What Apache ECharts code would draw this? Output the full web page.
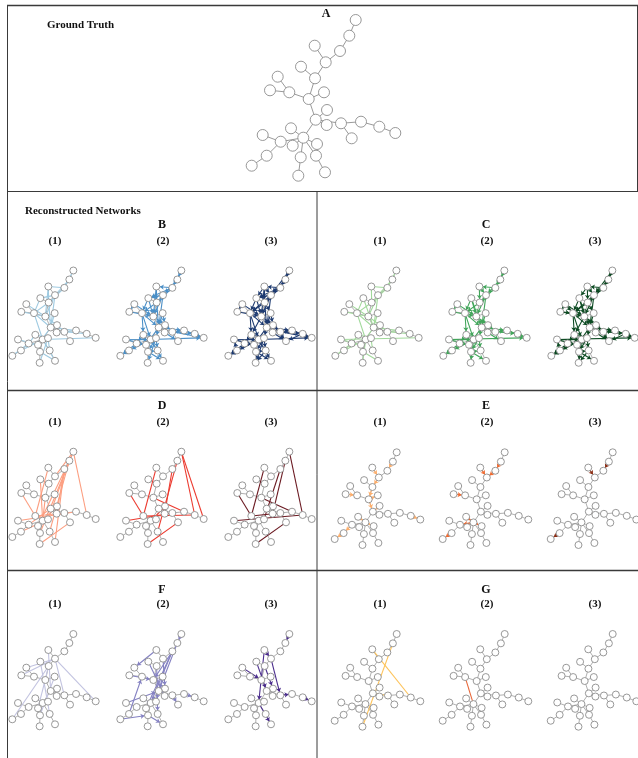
<!DOCTYPE html>
<html>
<head>
<meta charset="utf-8">
<script src="https://cdn.jsdelivr.net/npm/echarts@6/dist/echarts.min.js"></script>
<style>
  html, body { margin: 0; background: #fff; }
  #chart { width: 638px; height: 758px; }
</style>
</head>
<body>
<div id="chart"></div>
<script>
// node positions of the ground-truth tree layout (used by A, E, G)
const truthXY = [
  [355.7, 20], [349.3, 35.7], [340, 51], [314.7, 45.7], [325.7, 62.3], [301, 66.7],
  [315, 78.3], [277.7, 76.7], [270, 90.3], [289.3, 92.3], [308.7, 99], [324, 92.3],
  [327, 110], [315.7, 119.7], [326.7, 125], [341, 123.3], [361, 121.7], [379.3, 126.7],
  [395.3, 133], [351.7, 138.3], [291, 128.3], [303.3, 137.7], [262.7, 135], [280.7, 141.7],
  [292.7, 145.7], [317, 144], [266.7, 155.7], [251.7, 165.7], [300.7, 157.3], [316, 155.7],
  [298.3, 175.7], [325, 172.3]
];
// node positions of the second layout (used by B, C, D, F)
const panelXY = [
  [206, 19], [194, 46], [179, 71], [131, 67], [151, 93], [107, 102],
  [132, 115], [65, 120], [50, 143], [88, 147], [122, 157], [150, 147],
  [157, 183], [138, 190], [156, 205], [179, 203], [214, 199], [246, 209],
  [273, 221], [196, 231], [92, 212], [114, 226], [40, 226], [72, 238],
  [100, 242], [130, 222], [49, 259], [23, 275], [106, 263], [135, 259],
  [105, 296], [151, 290]
];
const treeEdges = [
  [0, 1], [1, 2], [2, 4], [3, 4], [4, 6], [5, 6], [6, 10], [7, 9], [8, 9], [9, 10],
  [10, 11], [10, 13], [12, 13], [13, 14], [13, 15], [15, 16], [16, 17], [17, 18], [15, 19],
  [13, 21], [20, 21], [21, 23], [22, 23], [23, 26], [26, 27], [21, 24], [21, 25],
  [21, 28], [28, 30], [21, 29], [29, 31]
];

const edgesB1 = [[0,2],[1,4],[2,3],[2,6],[3,6],[4,5],[4,10],[5,9],[6,9],[7,10],[8,10],[9,13],[10,12],[11,13],[6,13],[13,16],[12,15],[14,16],[15,17],[21,18],[20,23],[22,24],[21,26],[23,27],[24,28],[25,29],[28,31],[13,24],[20,25],[9,21],[3,10],[4,13],[25,30],[21,31]];
const edgesB2 = edgesB1.concat([[0,1],[5,10],[7,8],[9,20],[20,24],[22,21],[23,24],[24,25],[25,28],[28,29],[16,18],[15,18],[14,19],[12,14],[11,12],[13,25],[2,5],[26,27]]);
const edgesB3 = edgesB2.concat([[3,5],[6,11],[10,20],[21,27],[26,22],[29,30],[17,19],[12,19],[4,9],[0,4],[1,2],[3,4]]);
const edgesC1 = [[0,2],[1,4],[2,3],[2,6],[3,6],[4,10],[5,9],[6,9],[7,10],[8,10],[9,13],[10,12],[11,13],[5,13],[13,16],[12,15],[14,16],[15,17],[22,18],[20,23],[22,24],[21,26],[23,27],[24,28],[25,29],[28,31],[13,24],[20,25],[9,21],[4,13],[21,30]];
const edgesC2 = edgesC1.concat([[0,1],[1,2],[5,10],[7,8],[9,20],[20,24],[22,21],[23,24],[24,25],[25,28],[28,29],[16,18],[14,19],[12,14],[13,25],[26,27],[3,4]]);
const edgesC3 = edgesC2.concat([[3,5],[6,11],[10,20],[21,27],[26,22],[29,30],[17,19],[12,19],[4,9],[0,4],[7,9],[8,9],[15,16],[17,18]]);
const edgesD1 = [[0,17],[0,4],[1,25],[1,29],[2,14],[2,31],[3,20],[8,20],[22,16],[23,13],[30,19],[20,15],[24,12],[5,21],[1,24],[26,25],[10,21],[0,28]];
const edgesD2 = [[0,17],[0,18],[1,29],[2,14],[3,20],[8,20],[10,16],[22,15],[20,17],[30,19],[24,12]];
const edgesD3 = [[0,17],[1,14],[3,20],[8,20],[10,16],[22,17],[20,15],[30,19],[2,25]];
const edgesE1 = [[1,2],[3,4],[4,6],[6,10],[8,9],[10,13],[12,13],[17,18],[23,26],[26,27],[20,21],[21,25],[10,11]];
const edgesE2 = [[1,2],[3,4],[2,4],[8,9],[20,21],[21,25],[26,27],[21,23]];
const edgesE3 = [[1,2],[3,4],[13,14],[26,27]];
const edgesF1 = [[4,18],[4,8],[4,7],[4,15],[27,6],[5,29],[3,13],[6,24],[11,28]];
const edgesF2 = [[3,7],[2,21],[2,24],[1,13],[5,14],[6,29],[27,28],[22,13],[8,10],[26,9],[4,12],[0,1],[16,17],[15,19],[2,10],[11,25],[28,31]];
const edgesF3 = [[5,13],[6,12],[4,15],[3,21],[21,31],[0,1],[3,4],[15,16],[17,18],[7,10],[12,14]];
const edgesG1 = [[3,17],[1,30],[13,15]];
const edgesG2 = [[9,21]];
const edgesG3 = [];

const colLeft = [12.3, 120.3, 228.3, 335.3, 443.3, 551.3];
const panels = [
  { xy: truthXY, box: [251.7, 20, 143.6, 155.7], extra: [], color: '#999', size: 11 },
  { xy: panelXY, col: 0, top: 270.5, extra: edgesB1, color: '#9ecae1' },
  { xy: panelXY, col: 1, top: 270.5, extra: edgesB2, color: '#4a8fc7', arrow: true },
  { xy: panelXY, col: 2, top: 270.5, extra: edgesB3, color: '#1d3a70', arrow: true },
  { xy: panelXY, col: 3, top: 270.5, extra: edgesC1, color: '#a1d99b' },
  { xy: panelXY, col: 4, top: 270.5, extra: edgesC2, color: '#41a55a', arrow: true },
  { xy: panelXY, col: 5, top: 270.5, extra: edgesC3, color: '#0c4a22', arrow: true },
  { xy: panelXY, col: 0, top: 451.7, extra: edgesD1, color: '#fc9e80' },
  { xy: panelXY, col: 1, top: 451.7, extra: edgesD2, color: '#ec3b30' },
  { xy: panelXY, col: 2, top: 451.7, extra: edgesD3, color: '#6b1a22' },
  { xy: truthXY, col: 3, top: 452.3, extra: edgesE1, color: '#fdae6b', arrow: true },
  { xy: truthXY, col: 4, top: 452.3, extra: edgesE2, color: '#f06a30', arrow: true },
  { xy: truthXY, col: 5, top: 452.3, extra: edgesE3, color: '#8c2d14', arrow: true },
  { xy: panelXY, col: 0, top: 634, extra: edgesF1, color: '#c2c3e0' },
  { xy: panelXY, col: 1, top: 634, extra: edgesF2, color: '#8481c2', arrow: true },
  { xy: panelXY, col: 2, top: 634, extra: edgesF3, color: '#4a2c8c', arrow: true },
  { xy: truthXY, col: 3, top: 634, extra: edgesG1, color: '#fdc35a' },
  { xy: truthXY, col: 4, top: 634, extra: edgesG2, color: '#e8683a' },
  { xy: truthXY, col: 5, top: 634, extra: edgesG3, color: '#999' }
];

const series = panels.map(p => {
  const isTruth = p.xy === truthXY;
  let box = p.box;
  if (!box) {
    box = isTruth ? [colLeft[p.col] - 0.6, p.top, 85.6, 92.7] : [colLeft[p.col], p.top, 83.4, 92.3];
  }
  const links = treeEdges.map(e => ({
    source: e[0], target: e[1],
    lineStyle: { color: '#9a9a9a', width: p.size ? 1 : 0.8, opacity: 1, type: 'solid' }
  }));
  p.extra.forEach(e => {
    const link = {
      source: e[0], target: e[1],
      lineStyle: { color: p.color, width: 1.1, opacity: 1, type: 'solid' }
    };
    if (p.arrow) {
      link.symbol = ['none', 'arrow'];
      link.symbolSize = [1, 4];
    }
    links.push(link);
  });
  return {
    type: 'graph',
    layout: 'none',
    left: box[0], top: box[1], width: box[2], height: box[3],
    roam: false,
    silent: true,
    symbol: 'circle',
    symbolSize: p.size || 7,
    edgeSymbol: ['none', 'none'],
    lineStyle: { color: '#9a9a9a', width: 1, opacity: 1 },
    itemStyle: { color: '#fff', borderColor: '#8c8c8c', borderWidth: 0.9 },
    label: { show: false },
    data: p.xy.map((pt, i) => ({ name: 'n' + i, x: pt[0], y: pt[1] })),
    links: links
  };
});

const serif = '"Liberation Serif", "DejaVu Serif", serif';
function txt(text, x, y, size, align) {
  return {
    type: 'text', x: x, y: y, silent: true,
    style: { text: text, font: 'bold ' + size + 'px ' + serif, fill: '#111',
             align: align || 'center', verticalAlign: 'middle' }
  };
}
function line(x1, y1, x2, y2, w) {
  return {
    type: 'line', silent: true,
    shape: { x1: x1, y1: y1, x2: x2, y2: y2 },
    style: { stroke: '#3a3a3a', lineWidth: w || 1 }
  };
}

const labels = [
  txt('Ground Truth', 47, 25, 11, 'left'),
  txt('A', 326, 14, 12),
  txt('Reconstructed Networks', 25, 211, 11, 'left'),
  txt('B', 162, 225, 12), txt('C', 486, 225, 12),
  txt('D', 162, 406, 12), txt('E', 486, 406, 12),
  txt('F', 162, 590, 12), txt('G', 486, 590, 12)
];
const subX = [55, 163, 271, 380, 487, 595];
[241, 422, 604].forEach(y => {
  subX.forEach((x, i) => labels.push(txt('(' + (i % 3 + 1) + ')', x, y, 11)));
});

const frame = [
  line(7, 5.5, 638, 5.5, 1.5),
  line(7.5, 5, 7.5, 758),
  line(637.5, 5, 637.5, 191.5),
  line(7, 191.5, 638, 191.5, 1.2),
  line(317, 191.5, 317, 758),
  line(7, 390.5, 638, 390.5, 1.5),
  line(7, 570.5, 638, 570.5, 1.5)
];

const chart = echarts.init(document.getElementById('chart'));
chart.setOption({
  backgroundColor: '#fff',
  animation: false,
  graphic: frame.concat(labels),
  series: series
});
</script>
</body>
</html>
